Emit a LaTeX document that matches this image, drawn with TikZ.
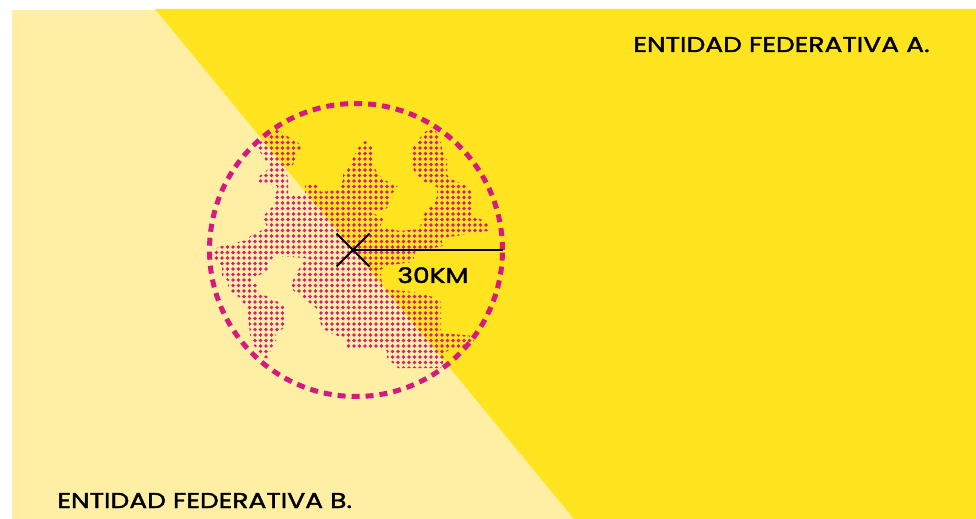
\documentclass[tikz,border=0pt]{standalone}
\usepackage{fontspec}
\setmainfont{Poppins}[FakeStretch=1.24, FakeBold=1.8]
\usetikzlibrary{shapes.misc}

\definecolor{paleyellow}{HTML}{FEEFA5}
\definecolor{stateyellow}{HTML}{FFE41F}
\definecolor{urbanpink}{HTML}{D6197F}

\begin{document}
\begin{tikzpicture}[x=0.5pt,y=-0.5pt,
        txt/.style={anchor=base west, inner sep=0pt, font=\fontsize{10.7}{12}\selectfont},
        dot/.style={urbanpink}]
                
            \useasboundingbox (0,0) rectangle (976,519);
            \fill[paleyellow] (12,10) rectangle (976,519);
            \fill[stateyellow] (155,9) -- (976,9) -- (976,519) -- (574,519) -- cycle;
            
            % dotted urban area
            \begin{scope}
                \clip (213,253) -- (218,247) -- (247,240) -- (252,234) -- (268,228) -- (262,218) -- (267,212)
                    -- (273,206) -- (273,197) -- (277,191) -- (277,186) -- (258,182) -- (258,177) -- (265,172)
                    -- (270,167) -- (263,156) -- (257,148) -- (257,143) -- (268,138) -- (277,128) -- (282,133)
                    -- (297,142) -- (303,147) -- (297,153) -- (293,165) -- (286,166) -- (288,180) -- (288,196)
                    -- (305,195) -- (305,183) -- (318,185) -- (321,192) -- (338,190) -- (343,180) -- (343,174)
                    -- (348,169) -- (353,158) -- (358,148) -- (365,141) -- (372,147) -- (373,165) -- (378,174)
                    -- (384,180) -- (397,185) -- (397,190) -- (392,193) -- (390,202) -- (387,208) -- (373,213)
                    -- (383,219) -- (380,227) -- (400,231) -- (420,229) -- (422,216) -- (428,210) -- (433,204)
                    -- (437,197) -- (437,187) -- (425,182) -- (417,176) -- (412,167) -- (410,155) -- (413,147)
                    -- (420,138) -- (425,132) -- (432,127) -- (440,137) -- (443,153) -- (447,160) -- (447,175)
                    -- (453,180) -- (465,185) -- (471,190) -- (473,200) -- (473,215) -- (480,219) -- (488,222)
                    -- (488,231) -- (470,234) -- (441,238) -- (443,246) -- (415,252) -- (413,262) -- (390,265)
                    -- (380,270) -- (383,289) -- (413,292) -- (433,297) -- (441,302) -- (441,333) -- (474,336)
                    -- (474,343) -- (460,348) -- (444,352) -- (444,360) -- (441,368) -- (398,368) -- (387,358)
                    -- (387,351) -- (377,349) -- (345,349) -- (345,338) -- (332,334) -- (322,328) -- (316,308)
                    -- (302,297) -- (290,288) -- (295,275) -- (306,258) -- (274,256) -- (268,264) -- (268,272)
                    -- (256,276) -- (251,282) -- (258,285) -- (259,292) -- (266,296) -- (284,305) -- (284,328)
                    -- (276,333) -- (276,342) -- (271,348) -- (269,358) -- (264,358) -- (256,348) -- (251,342)
                    -- (247,308) -- (240,298) -- (233,293) -- (228,288) -- (228,281) -- (222,276) -- (222,266)
                    -- (215,259) -- cycle;
                \foreach \i in {0,...,52} {
                    \foreach \j in {0,...,45} {
                        \fill[dot] (211+5.5*\i,126+5.5*\j) circle[radius=0.92pt];
                    }
                }
            \end{scope}
            
            \node[circle, draw=urbanpink, minimum size=146.5pt, inner sep=0pt, outer sep=0pt,
                line width=2.5pt, dash pattern=on 4pt off 3pt] (zone) at (356,250) {};
            \node[cross out, draw, minimum size=15.5pt, inner sep=0pt, line width=1pt] (town) at (353,250) {};
            \draw[line width=1pt] (town.center) -- (zone.east);
            
            \node[txt] (km) at (397,283) {30KM};
            \node[txt] (stateA) at (633,52) {ENTIDAD FEDERATIVA A.};
            \node[txt] (stateB) at (57,508) {ENTIDAD FEDERATIVA B.};
            
        \end{tikzpicture}
\end{document}
